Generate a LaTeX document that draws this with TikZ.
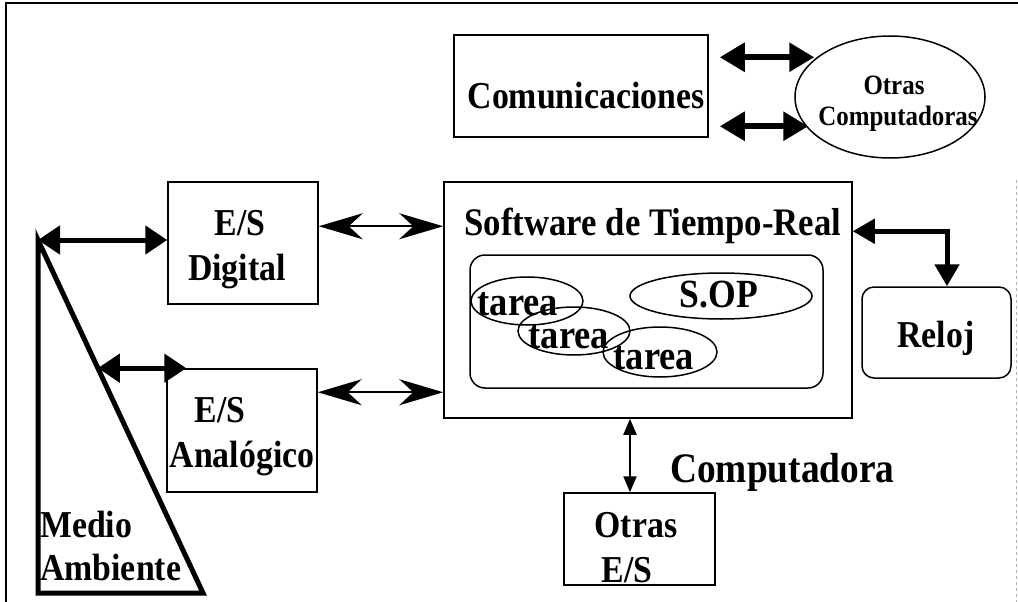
\documentclass[tikz,border=0pt]{standalone}
\usepackage{fontspec}
\usepackage{graphicx}
\setmainfont{Liberation Serif}
\usetikzlibrary{arrows.meta,calc,shapes.geometric}
\newcommand\cnd[1]{\scalebox{0.89}[1]{#1}}
\tikzset{
  box/.style={draw, line width=1.5pt, rectangle, inner sep=0pt},
  rbox/.style={draw, line width=1.5pt, rectangle, rounded corners=12pt, inner sep=0pt},
  oval/.style={draw, line width=1.5pt, ellipse, inner sep=0pt},
  txt/.style={inner sep=0pt, anchor=base, font=\bfseries\fontsize{38}{44}\selectfont},
  bigarr/.style={line width=5pt, {Triangle[length=22pt,width=28pt]}-{Triangle[length=22pt,width=28pt]}},
  comarr/.style={line width=6pt, {Triangle[length=25pt,width=28pt]}-{Triangle[length=25pt,width=28pt]}},
  stearr/.style={line width=2pt, {Stealth[length=44pt,width=26pt,inset=14pt]}-{Stealth[length=44pt,width=26pt,inset=14pt]}},
  smallarr/.style={line width=2pt, {Triangle[length=16pt,width=13pt]}-{Triangle[length=16pt,width=13pt]}},
  clkarr/.style={line width=5pt, {Triangle[length=22pt,width=24pt]}-{Triangle[length=22pt,width=24pt]}}
}
\begin{document}
\begin{tikzpicture}[x=1pt,y=-1pt]
\fill[white] (0,0) rectangle (1018,602);
\useasboundingbox (0,0) rectangle (1018,602);
% frame
\draw[line width=1.5pt] (6,602) -- (6,3) -- (1018,3);
\draw[gray!60, dashed, line width=0.8pt] (1016,180) -- (1016,602);

% boxes
\node[box, minimum width=254pt, minimum height=102pt] (com) at (581,86) {};
\node[oval, minimum width=190pt, minimum height=122pt] (oc) at (890,97) {};
\node[box, minimum width=150pt, minimum height=122pt] (esd) at (243,243) {};
\node[box, minimum width=150pt, minimum height=123pt] (esa) at (242,430.5) {};
\node[box, minimum width=408pt, minimum height=236pt] (sw) at (648,300) {};
\node[rbox, minimum width=353pt, minimum height=133pt, rounded corners=15pt] (inner) at (646.5,321.5) {};
\node[oval, minimum width=182pt, minimum height=46pt] (sop) at (721,296) {};
\node[oval, minimum width=112pt, minimum height=48pt] (t1) at (527,301) {};
\node[oval, minimum width=112pt, minimum height=48pt] (t2) at (574,331) {};
\node[oval, minimum width=114pt, minimum height=50pt] (t3) at (660,352) {};
\node[rbox, minimum width=149pt, minimum height=91pt] (reloj) at (936.5,332.5) {};
\node[box, minimum width=151pt, minimum height=92pt] (oes) at (639.5,539) {};

% Medio Ambiente triangle
\coordinate (mtop) at (38,240);
\coordinate (mbl) at (38,593);
\coordinate (mbr) at (203,593);
\draw[line width=5pt, line join=miter] (mtop) -- (mbl) -- (mbr) -- cycle;

% texts
\node[txt] (tcom) at (586,108) {\cnd{Comunicaciones}};
\node[txt, font=\bfseries\fontsize{28}{30}\selectfont] (toc1) at (894,95) {\cnd{Otras}};
\node[txt, font=\bfseries\fontsize{28}{30}\selectfont] (toc2) at (898,125) {\cnd{Computadoras}};
\node[txt] (tesd1) at (240,235) {\cnd{E/S}};
\node[txt] (tesd2) at (237,280) {\cnd{Digital}};
\node[txt] (tesa1) at (220,422) {\cnd{E/S}};
\node[txt] (tesa2) at (242,467) {\cnd{Analógico}};
\node[txt, anchor=base west] (tm1) at (40,537) {\cnd{Medio}};
\node[txt, anchor=base west] (tm2) at (40,580) {\cnd{Ambiente}};
\node[txt, font=\bfseries\fontsize{39}{44}\selectfont] (tsw) at (653,235) {\cnd{Software de Tiempo-Real}};
\node[txt, font=\bfseries\fontsize{40}{44}\selectfont] (tsop) at (719,307) {\cnd{S.OP}};
\node[txt, font=\bfseries\fontsize{41}{44}\selectfont] (tt1) at (518,315) {\cnd{tarea}};
\node[txt, font=\bfseries\fontsize{41}{44}\selectfont] (tt2) at (569,348) {\cnd{tarea}};
\node[txt, font=\bfseries\fontsize{41}{44}\selectfont] (tt3) at (654,369) {\cnd{tarea}};
\node[txt] (trel) at (936,347) {\cnd{Reloj}};
\node[txt, anchor=base west, font=\bfseries\fontsize{42}{44}\selectfont] (tcomp) at (670,482) {\cnd{Computadora}};
\node[txt] (toes1) at (636,537) {\cnd{Otras}};
\node[txt] (toes2) at (627,582) {\cnd{E/S}};

% connectors
\draw[bigarr] (mtop) -- (mtop -| esd.west);
\coordinate (mhyp) at ($(mtop)!0.363!(mbr)$);
\coordinate (aesa) at ([xshift=20pt,yshift=1pt]esa.north west);
\draw[bigarr] (mhyp) -- (mhyp -| aesa);

\coordinate (a1) at ([yshift=-45pt]esd.north east);
\draw[stearr] (a1) -- (a1 -| sw.west);
\coordinate (a2) at ([yshift=-24pt]esa.north east);
\draw[stearr] (a2) -- (a2 -| sw.west);

\coordinate (r1) at ([yshift=-50pt]sw.north east);
\coordinate (r2) at ([xshift=10.5pt]reloj.north);
\draw[clkarr] (r1) -| (r2);

\coordinate (o1) at ([xshift=-9.5pt]oes.north);
\draw[smallarr] (o1 |- sw.south) -- (o1);

\coordinate (c1l) at ([xshift=11pt,yshift=-23pt]com.north east);
\coordinate (c1r) at ($(c1l -| oc.west)+(20,0)$);
\draw[comarr] (c1l) -- (c1r);
\coordinate (c2l) at ([xshift=11pt,yshift=-92pt]com.north east);
\coordinate (c2r) at ($(c2l -| oc.west)+(14,0)$);
\draw[comarr] (c2l) -- (c2r);
\end{tikzpicture}
\end{document}
